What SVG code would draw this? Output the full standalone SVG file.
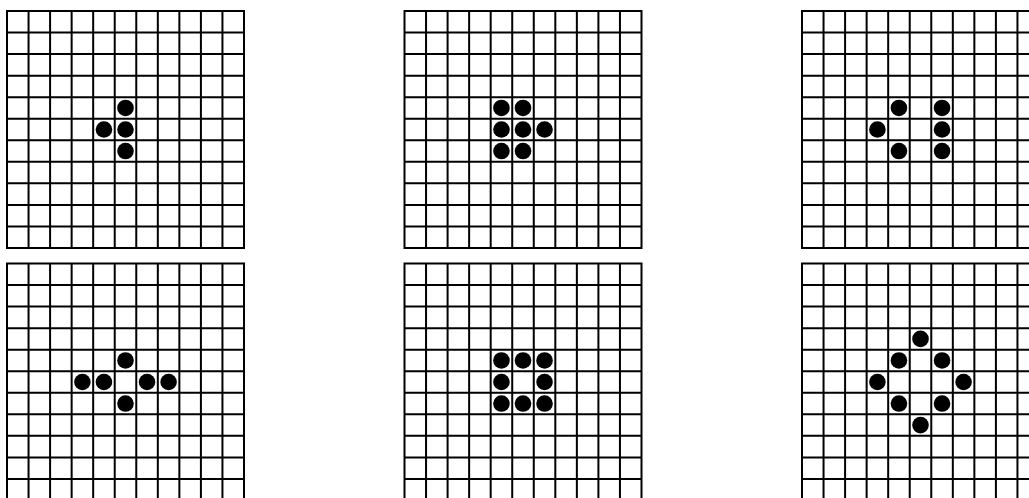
<svg xmlns="http://www.w3.org/2000/svg" xmlns:xlink="http://www.w3.org/1999/xlink" width="1029" height="498" viewBox="0 0 1029 498">
<style>
.grid{fill:none;stroke:#000;stroke-width:2;stroke-linecap:square}
.dot{fill:#000}
</style>
<defs>
<path id="lattice" class="grid" d="M0 0V237M21.55 0V237M43.09 0V237M64.64 0V237M86.18 0V237M107.73 0V237M129.27 0V237M150.82 0V237M172.36 0V237M193.91 0V237M215.45 0V237M237 0V237M0 0H237M0 21.55H237M0 43.09H237M0 64.64H237M0 86.18H237M0 107.73H237M0 129.27H237M0 150.82H237M0 172.36H237M0 193.91H237M0 215.45H237M0 237H237"/>
</defs>
<rect width="1029" height="498" fill="#fff"/>
<g id="grid1" transform="translate(7,11)">
<use xlink:href="#lattice"/>
<circle class="dot" cx="118.5" cy="96.95" r="8.3"/>
<circle class="dot" cx="96.95" cy="118.5" r="8.3"/>
<circle class="dot" cx="118.5" cy="118.5" r="8.3"/>
<circle class="dot" cx="118.5" cy="140.05" r="8.3"/>
</g>
<g id="grid2" transform="translate(404.5,11)">
<use xlink:href="#lattice"/>
<circle class="dot" cx="96.95" cy="96.95" r="8.3"/>
<circle class="dot" cx="118.5" cy="96.95" r="8.3"/>
<circle class="dot" cx="96.95" cy="118.5" r="8.3"/>
<circle class="dot" cx="118.5" cy="118.5" r="8.3"/>
<circle class="dot" cx="140.05" cy="118.5" r="8.3"/>
<circle class="dot" cx="96.95" cy="140.05" r="8.3"/>
<circle class="dot" cx="118.5" cy="140.05" r="8.3"/>
</g>
<g id="grid3" transform="translate(802,11)">
<use xlink:href="#lattice"/>
<circle class="dot" cx="96.95" cy="96.95" r="8.3"/>
<circle class="dot" cx="140.05" cy="96.95" r="8.3"/>
<circle class="dot" cx="75.41" cy="118.5" r="8.3"/>
<circle class="dot" cx="140.05" cy="118.5" r="8.3"/>
<circle class="dot" cx="96.95" cy="140.05" r="8.3"/>
<circle class="dot" cx="140.05" cy="140.05" r="8.3"/>
</g>
<g id="grid4" transform="translate(7,263.5)">
<use xlink:href="#lattice"/>
<circle class="dot" cx="118.5" cy="96.95" r="8.3"/>
<circle class="dot" cx="75.41" cy="118.5" r="8.3"/>
<circle class="dot" cx="96.95" cy="118.5" r="8.3"/>
<circle class="dot" cx="140.05" cy="118.5" r="8.3"/>
<circle class="dot" cx="161.59" cy="118.5" r="8.3"/>
<circle class="dot" cx="118.5" cy="140.05" r="8.3"/>
</g>
<g id="grid5" transform="translate(404.5,263.5)">
<use xlink:href="#lattice"/>
<circle class="dot" cx="96.95" cy="96.95" r="8.3"/>
<circle class="dot" cx="118.5" cy="96.95" r="8.3"/>
<circle class="dot" cx="140.05" cy="96.95" r="8.3"/>
<circle class="dot" cx="96.95" cy="118.5" r="8.3"/>
<circle class="dot" cx="140.05" cy="118.5" r="8.3"/>
<circle class="dot" cx="96.95" cy="140.05" r="8.3"/>
<circle class="dot" cx="118.5" cy="140.05" r="8.3"/>
<circle class="dot" cx="140.05" cy="140.05" r="8.3"/>
</g>
<g id="grid6" transform="translate(802,263.5)">
<use xlink:href="#lattice"/>
<circle class="dot" cx="118.5" cy="75.41" r="8.3"/>
<circle class="dot" cx="96.95" cy="96.95" r="8.3"/>
<circle class="dot" cx="140.05" cy="96.95" r="8.3"/>
<circle class="dot" cx="75.41" cy="118.5" r="8.3"/>
<circle class="dot" cx="161.59" cy="118.5" r="8.3"/>
<circle class="dot" cx="96.95" cy="140.05" r="8.3"/>
<circle class="dot" cx="140.05" cy="140.05" r="8.3"/>
<circle class="dot" cx="118.5" cy="161.59" r="8.3"/>
</g>
<g id="connectors"></g>
</svg>
